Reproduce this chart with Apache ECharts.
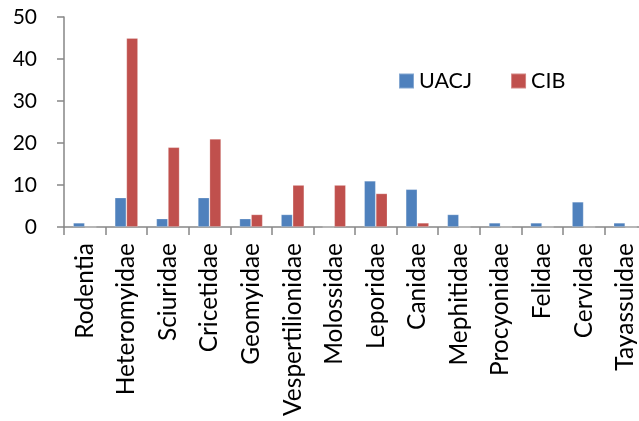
<!DOCTYPE html>
<html>
<head>
<meta charset="utf-8">
<script src="https://cdn.jsdelivr.net/npm/echarts@6/dist/echarts.min.js"></script>
<style>
  html, body { margin: 0; padding: 0; background: #fff; }
  #chart { width: 639px; height: 421px; }
</style>
</head>
<body>
<div id="chart"></div>
<script>
// Mammal families and specimen counts per collection
const families = ['Rodentia', 'Heteromyidae', 'Sciuridae', 'Cricetidae', 'Geomyidae',
  'Vespertilionidae', 'Molossidae', 'Leporidae', 'Canidae', 'Mephitidae',
  'Procyonidae', 'Felidae', 'Cervidae', 'Tayassuidae'];
const uacj = [1, 7, 2, 7, 2, 3, 0, 11, 9, 3, 1, 1, 6, 1];
const cib = [0, 45, 19, 21, 3, 10, 10, 8, 1, 0, 0, 0, 0, 0];
const yTicks = { min: 0, max: 50, step: 10 };

const FONT = 'Lato';
const AXIS_GRAY = '#868686';

const chart = echarts.init(document.getElementById('chart'), null, { renderer: 'canvas' });
chart.setOption({
  animation: false,
  backgroundColor: '#ffffff',
  textStyle: { fontFamily: FONT, color: '#000' },
  legend: {
    left: 398,
    top: 70,
    padding: 0,
    itemWidth: 15,
    itemHeight: 15,
    itemGap: 38,
    icon: 'rect',
    textStyle: { fontFamily: FONT, fontSize: 21.5, color: '#000' },
    data: ['UACJ', 'CIB']
  },
  grid: {
    left: 64, top: 17, width: 582, bottom: 194,
    containLabel: false,
    outerBoundsMode: 'none'
  },
  xAxis: {
    type: 'category',
    data: families,
    boundaryGap: true,
    axisLine: { lineStyle: { color: AXIS_GRAY, width: 1.5 } },
    axisTick: { show: true, length: 8, alignWithLabel: false, lineStyle: { color: AXIS_GRAY, width: 1.5 } },
    axisLabel: { rotate: 90, interval: 0, margin: 16, fontFamily: FONT, fontSize: 24.5, color: '#000' },
    splitLine: { show: false }
  },
  yAxis: {
    type: 'value',
    min: yTicks.min,
    max: yTicks.max,
    interval: yTicks.step,
    axisLine: { show: true, lineStyle: { color: AXIS_GRAY, width: 1.5 } },
    axisTick: { show: true, inside: false, length: 7, lineStyle: { color: AXIS_GRAY, width: 1.5 } },
    axisLabel: { margin: 27, fontFamily: FONT, fontSize: 21, color: '#000' },
    splitLine: { show: false }
  },
  series: [
    {
      name: 'UACJ',
      type: 'bar',
      data: uacj,
      barGap: '0%',
      barCategoryGap: '44%',
      itemStyle: { color: '#4F81BD', borderColor: 'rgba(255,255,255,0.3)', borderWidth: 0.8 }
    },
    {
      name: 'CIB',
      type: 'bar',
      data: cib,
      barGap: '0%',
      barCategoryGap: '44%',
      itemStyle: { color: '#C0504D', borderColor: 'rgba(255,255,255,0.3)', borderWidth: 0.8 }
    }
  ]
});
</script>
</body>
</html>
